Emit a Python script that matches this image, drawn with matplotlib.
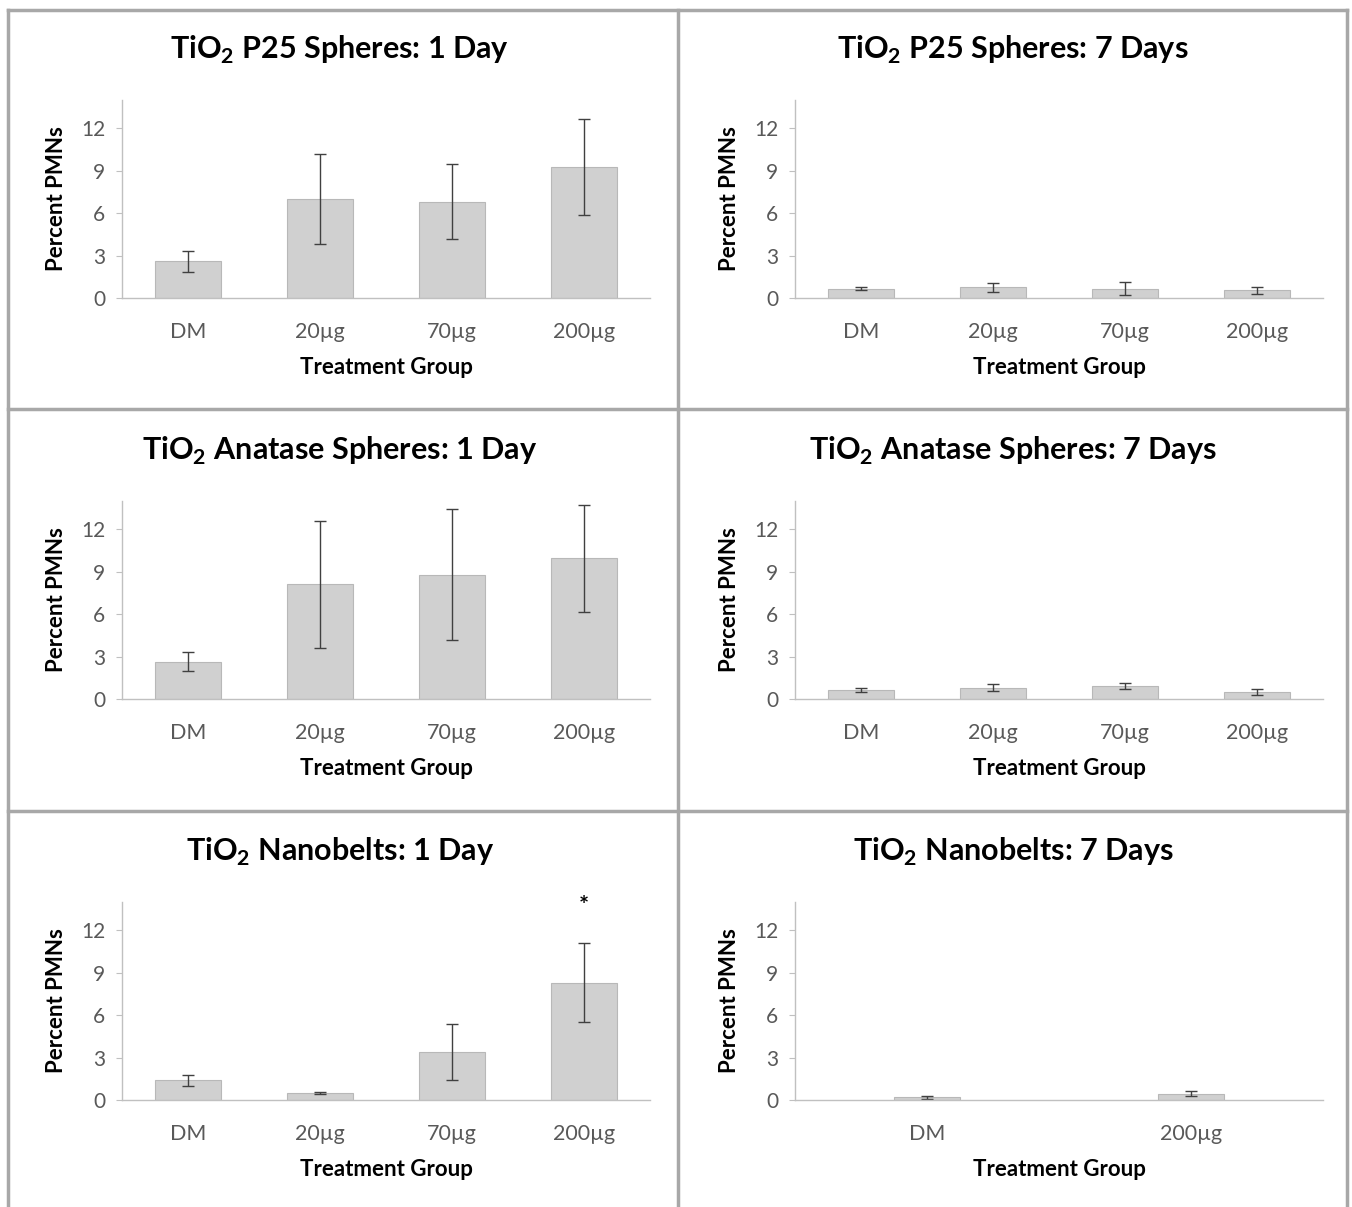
import matplotlib
matplotlib.use("Agg")
import matplotlib.pyplot as plt
from matplotlib.lines import Line2D

plt.rcParams['font.family'] = ['Lato', 'DejaVu Sans']
plt.rcParams['mathtext.fontset'] = 'custom'
plt.rcParams['mathtext.rm'] = 'Lato:bold'
plt.rcParams['mathtext.bf'] = 'Lato:bold'

# data
groups4 = ['DM', '20µg', '70µg', '200µg']
groups2 = ['DM', '200µg']

p25_1d = [2.6, 7.0, 6.8, 9.25]
p25_1d_err = [0.75, 3.2, 2.65, 3.4]
p25_7d = [0.65, 0.75, 0.65, 0.55]
p25_7d_err = [0.1, 0.3, 0.45, 0.25]

ana_1d = [2.65, 8.1, 8.8, 9.95]
ana_1d_err = [0.7, 4.5, 4.6, 3.8]
ana_7d = [0.65, 0.8, 0.9, 0.5]
ana_7d_err = [0.15, 0.25, 0.2, 0.2]

nb_1d = [1.4, 0.5, 3.4, 8.3]
nb_1d_err = [0.4, 0.1, 2.0, 2.8]
nb_7d = [0.2, 0.45]
nb_7d_err = [0.1, 0.2]

titles = [r'TiO$_\mathrm{2}$ P25 Spheres: 1 Day', r'TiO$_\mathrm{2}$ P25 Spheres: 7 Days',
          r'TiO$_\mathrm{2}$ Anatase Spheres: 1 Day', r'TiO$_\mathrm{2}$ Anatase Spheres: 7 Days',
          r'TiO$_\mathrm{2}$ Nanobelts: 1 Day', r'TiO$_\mathrm{2}$ Nanobelts: 7 Days']

panels = [
    (groups4, p25_1d, p25_1d_err), (groups4, p25_7d, p25_7d_err),
    (groups4, ana_1d, ana_1d_err), (groups4, ana_7d, ana_7d_err),
    (groups4, nb_1d, nb_1d_err), (groups2, nb_7d, nb_7d_err),
]

W, H = 1352, 1207
fig = plt.figure(figsize=(W / 100, H / 100), dpi=100)

col_left = [122, 795]
row_bottom = [298, 699, 1100]
ax_w, ax_h = 528, 198
title_y = [50, 451, 852]
title_x = [340, 1013]

for i, (title, (cats, vals, errs)) in enumerate(zip(titles, panels)):
    r, c = divmod(i, 2)
    ax = fig.add_axes([col_left[c] / W, 1 - row_bottom[r] / H, ax_w / W, ax_h / H])
    width = 0.5 if len(cats) == 4 else 0.25
    x = range(len(cats))
    ax.bar(x, vals, width=width, color='#d0d0d0', edgecolor='#b8b8b8', linewidth=0.8,
           yerr=errs, capsize=4, error_kw=dict(ecolor='#404040', elinewidth=1.0, capthick=1.0))
    ax.set_xlim(-0.5, len(cats) - 0.5)
    ax.set_ylim(0, 14)
    ax.set_yticks([0, 3, 6, 9, 12])
    ax.set_xticks(list(x))
    ax.set_xticklabels(cats)
    for s in ['top', 'right']:
        ax.spines[s].set_visible(False)
    for s in ['left', 'bottom']:
        ax.spines[s].set_color('#c0c0c0')
        ax.spines[s].set_linewidth(1.0)
    ax.tick_params(axis='y', colors='#c0c0c0', labelcolor='#595959', labelsize=15, length=4, pad=8)
    ax.tick_params(axis='x', length=0, labelcolor='#595959', labelsize=15.5, pad=17)
    ax.set_ylabel('Percent PMNs', fontsize=16, fontweight='bold', color='#000000', labelpad=10)
    ax.set_xlabel('Treatment Group', fontsize=16, fontweight='bold', color='#000000', labelpad=11)
    fig.text(title_x[c] / W, 1 - title_y[r] / H, title, ha='center', va='center',
             fontsize=22, fontweight='bold')
    if i == 4:
        ax.text(3, 13.7, '*', ha='center', va='center', fontsize=17, fontweight='bold')

# panel borders
bc = '#a8a8a8'
for xp in [8, 678, 1347]:
    fig.add_artist(Line2D([xp / W, xp / W], [0, 1 - 10 / H], color=bc, linewidth=2.5,
                          transform=fig.transFigure))
for yp in [10, 409, 811]:
    fig.add_artist(Line2D([8 / W, 1347 / W], [1 - yp / H, 1 - yp / H], color=bc, linewidth=2.5,
                          transform=fig.transFigure))

fig.savefig('out.png', dpi=100, facecolor='white')
